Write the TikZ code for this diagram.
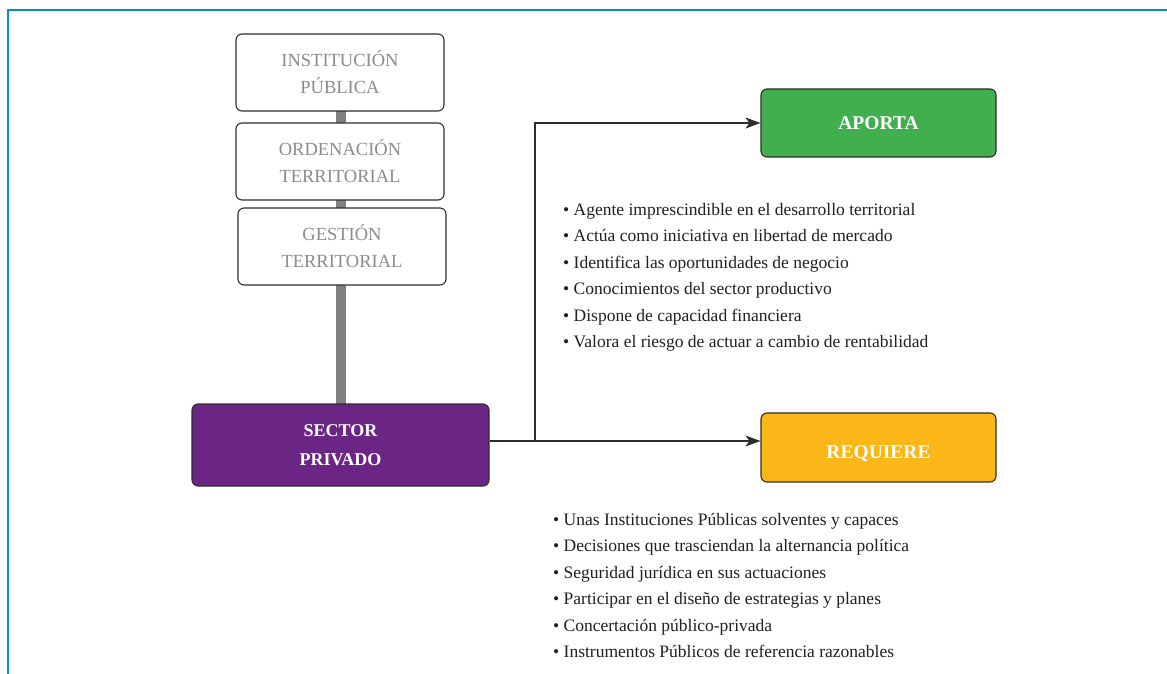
\documentclass[tikz,border=0pt]{standalone}
\usepackage{fontspec}
\setmainfont{Liberation Serif}
\usetikzlibrary{arrows.meta}
\definecolor{framecol}{RGB}{14,140,190}
\definecolor{barcol}{RGB}{128,128,131}
\definecolor{purplecol}{RGB}{107,37,133}
\definecolor{greencol}{RGB}{65,175,77}
\definecolor{yellowcol}{RGB}{251,182,23}
\definecolor{edgecol}{RGB}{45,45,45}
\definecolor{greytext}{RGB}{140,140,140}
\definecolor{listtext}{RGB}{35,31,32}
\tikzset{
  greybox/.style={draw=edgecol, line width=1.1pt, rounded corners=6pt, fill=white,
    minimum width=208pt, minimum height=77pt, inner sep=0pt, align=center,
    text=greytext, font=\fontsize{18.5}{27}\selectfont},
  colbox/.style={draw=edgecol, line width=1.1pt, rounded corners=6pt,
    inner sep=0pt, align=center, text=white},
  conn/.style={draw=edgecol, line width=1.1pt},
  arr/.style={conn, -{Stealth[length=15pt,width=11pt,inset=4pt]}},
  listline/.style={anchor=base west, inner sep=0pt, text=listtext, font=\fontsize{17.5}{21}\selectfont},
}
\begin{document}
\begin{tikzpicture}[x=1pt,y=-1pt]
\useasboundingbox (0,0) rectangle (1167,674);
\fill[white] (0,0) rectangle (1167,674);
\draw[framecol, line width=2pt] (1167,10) -- (8,10) -- (8,674);
% nodes
\coordinate (bartop) at (341,100);
\coordinate (barbot) at (341,410);
\draw[barcol, line width=10pt] (bartop) -- (barbot);
\node[greybox] (inst) at (340,72.5) {INSTITUCIÓN\\PÚBLICA};
\node[greybox] (orde) at (340,161.5) {ORDENACIÓN\\TERRITORIAL};
\node[greybox] (gest) at (342,246.5) {GESTIÓN\\TERRITORIAL};
\node[colbox, fill=purplecol, minimum width=297pt, minimum height=82pt,
  font=\fontsize{18}{29}\selectfont\bfseries] (sp) at (340.5,445) {SECTOR\\PRIVADO};
\node[colbox, fill=greencol, minimum width=235pt, minimum height=68pt,
  font=\fontsize{19.5}{28}\selectfont\bfseries] (apo) at (878.5,123) {APORTA};
\node[colbox, fill=yellowcol, minimum width=235pt, minimum height=69pt,
  text height=22pt, text depth=0pt,
  font=\fontsize{19.5}{28}\selectfont\bfseries] (req) at (878.5,447.5) {REQUIERE};
% connectors
\coordinate (br) at (535,441);
\coordinate (bend) at (535,123);
\draw[arr] (sp.east |- br) -- (req.west |- br);
\draw[arr] (br) -- (bend) -- (apo.west);
% lists
\foreach \t [count=\i from 0] in {Agente imprescindible en el desarrollo territorial,
  Actúa como iniciativa en libertad de mercado,
  Identifica las oportunidades de negocio,
  Conocimientos del sector productivo,
  Dispone de capacidad financiera,
  Valora el riesgo de actuar a cambio de rentabilidad}
  \node[listline] (a\i) at (563,215+26.5*\i) {• \t};
\foreach \t [count=\i from 0] in {Unas Instituciones Públicas solventes y capaces,
  Decisiones que trasciendan la alternancia política,
  Seguridad jurídica en sus actuaciones,
  Participar en el diseño de estrategias y planes,
  Concertación público-privada,
  Instrumentos Públicos de referencia razonables}
  \node[listline] (r\i) at (553,525+26.5*\i) {• \t};
\end{tikzpicture}
\end{document}
